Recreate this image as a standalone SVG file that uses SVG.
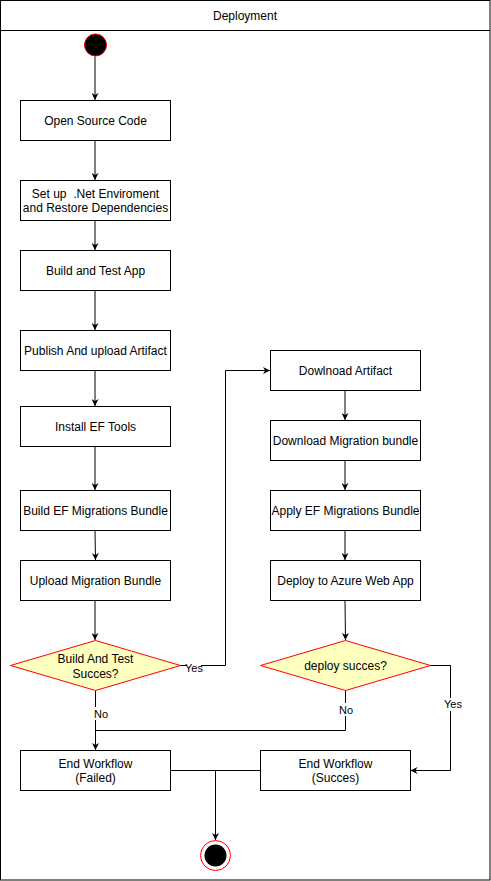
<svg xmlns="http://www.w3.org/2000/svg" width="491" height="881" viewBox="0 0 491 881">
<defs>
<marker id="arr" viewBox="0 0 10 10" refX="10" refY="5" markerWidth="7" markerHeight="7" markerUnits="userSpaceOnUse" orient="auto">
<path d="M0,0 L10,5 L0,10 L3,5 Z" fill="#000"/>
</marker>
<style>
.box{fill:#fff;stroke:#000;stroke-width:1}
.dec{fill:#ffffc0;stroke:#ff0000;stroke-width:1}
.t{font-family:"Liberation Sans",Arial,sans-serif;font-size:12px;fill:#000;text-anchor:middle;dominant-baseline:central;white-space:pre}
.e{fill:none;stroke:#000;stroke-width:1}
.lbl{font-family:"Liberation Sans",Arial,sans-serif;font-size:11px;fill:#000;text-anchor:middle;dominant-baseline:central}
</style>
</defs>
<rect width="491" height="881" fill="#fff"/>
<g id="frame">
<rect x="0.5" y="0.5" width="489.5" height="879.5" fill="none" stroke="#000"/>
<line x1="0.5" y1="30.5" x2="490" y2="30.5" stroke="#000"/>
<text class="t" x="245" y="15.5">Deployment</text>
</g>
<g id="edges">
<path class="e" d="M95,56.5 V100" marker-end="url(#arr)"/>
<path class="e" d="M95,140.5 V180" marker-end="url(#arr)"/>
<path class="e" d="M95,220.5 V250" marker-end="url(#arr)"/>
<path class="e" d="M95,290.5 V330" marker-end="url(#arr)"/>
<path class="e" d="M95,370.5 V406" marker-end="url(#arr)"/>
<path class="e" d="M95,446.5 V490" marker-end="url(#arr)"/>
<path class="e" d="M95,530.5 L95.5,560" marker-end="url(#arr)"/>
<path class="e" d="M95,600.5 V640" marker-end="url(#arr)"/>
<path class="e" d="M345,390.5 V420" marker-end="url(#arr)"/>
<path class="e" d="M345,460.5 V490" marker-end="url(#arr)"/>
<path class="e" d="M345,530.5 V560" marker-end="url(#arr)"/>
<path class="e" d="M345,600.5 L345.5,640" marker-end="url(#arr)"/>
<path class="e" d="M180,665.5 H225.5 V370.5 H270" marker-end="url(#arr)"/>
<path class="e" d="M95.5,690.5 V750" marker-end="url(#arr)"/>
<path class="e" d="M345.5,690.5 V730.5 H95.5"/>
<path class="e" d="M430,665.5 H450.5 V770.5 H410.5" marker-end="url(#arr)"/>
<path class="e" d="M170.5,770.5 H260.5"/>
<path class="e" d="M215.5,770.5 V840" marker-end="url(#arr)"/>
<rect x="187" y="661" width="14" height="13" fill="#fff"/>
<text class="lbl" x="194" y="668">Yes</text>
<rect x="93" y="707" width="16" height="13" fill="#fff"/>
<text class="lbl" x="101" y="714">No</text>
<rect x="338" y="703" width="16" height="13" fill="#fff"/>
<text class="lbl" x="346" y="710">No</text>
<rect x="443" y="698" width="20" height="13" fill="#fff"/>
<text class="lbl" x="453" y="704">Yes</text>
</g>
<g id="start"><circle cx="95.5" cy="45" r="11" fill="#000" stroke="#ff0000"/></g>
<g id="n1"><rect class="box" x="20.5" y="100.5" width="150" height="40"/><text class="t" x="95.5" y="120.5">Open Source Code</text></g>
<g id="n2"><rect class="box" x="20.5" y="180.5" width="150" height="40"/><text class="t" x="95.5" y="193.5" xml:space="preserve">Set up  .Net Enviroment</text><text class="t" x="95.5" y="208">and Restore Dependencies</text></g>
<g id="n3"><rect class="box" x="20.5" y="250.5" width="150" height="40"/><text class="t" x="95.5" y="270.5">Build and Test App</text></g>
<g id="n4"><rect class="box" x="20.5" y="330.5" width="150" height="40"/><text class="t" x="95.5" y="350.5">Publish And upload Artifact</text></g>
<g id="n5"><rect class="box" x="20.5" y="406.5" width="150" height="40"/><text class="t" x="95.5" y="426.5">Install EF Tools</text></g>
<g id="n6"><rect class="box" x="20.5" y="490.5" width="150" height="40"/><text class="t" x="95.5" y="510.5">Build EF Migrations Bundle</text></g>
<g id="n7"><rect class="box" x="20.5" y="560.5" width="150" height="40"/><text class="t" x="95.5" y="580.5">Upload Migration Bundle</text></g>
<g id="d1"><polygon class="dec" points="95.5,640.5 180.5,665.5 95.5,690.5 10.5,665.5"/><text class="t" x="95.5" y="659">Build And Test</text><text class="t" x="95.5" y="673.5">Succes?</text></g>
<g id="m1"><rect class="box" x="270.5" y="350.5" width="150" height="40"/><text class="t" x="345.5" y="370.5">Dowlnoad Artifact</text></g>
<g id="m2"><rect class="box" x="270.5" y="420.5" width="150" height="40"/><text class="t" x="345.5" y="440.5">Download Migration bundle</text></g>
<g id="m3"><rect class="box" x="270.5" y="490.5" width="150" height="40"/><text class="t" x="345.5" y="510.5">Apply EF Migrations Bundle</text></g>
<g id="m4"><rect class="box" x="270.5" y="560.5" width="150" height="40"/><text class="t" x="345.5" y="580.5">Deploy to Azure Web App</text></g>
<g id="d2"><polygon class="dec" points="345.5,640.5 430.5,665.5 345.5,690.5 260.5,665.5"/><text class="t" x="345.5" y="665.5">deploy succes?</text></g>
<g id="f1"><rect class="box" x="20.5" y="750.5" width="150" height="40"/><text class="t" x="95.5" y="763.5">End Workflow</text><text class="t" x="95.5" y="778">(Failed)</text></g>
<g id="f2"><rect class="box" x="260.5" y="750.5" width="150" height="40"/><text class="t" x="335.5" y="763.5">End Workflow</text><text class="t" x="335.5" y="778">(Succes)</text></g>
<g id="end"><circle cx="215.5" cy="855.5" r="15" fill="#fff" stroke="#ff0000"/><circle cx="215.5" cy="855.5" r="11" fill="#000"/></g>
</svg>
